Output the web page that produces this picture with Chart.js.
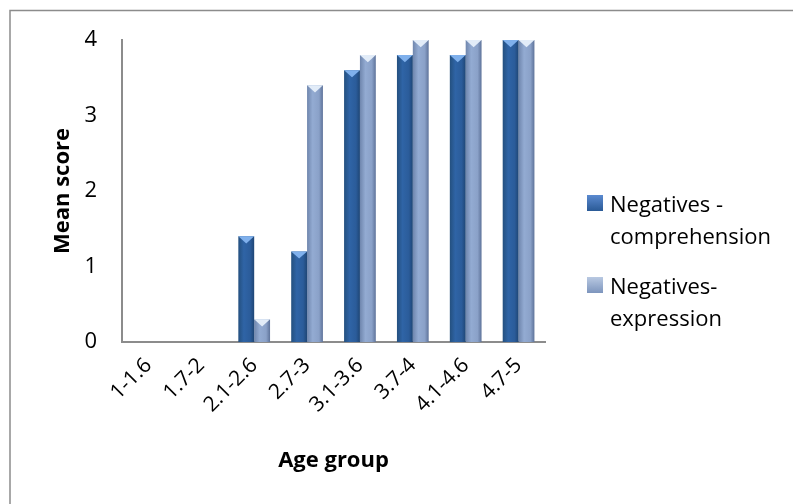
<!DOCTYPE html>
<html lang="en">
<head>
  <meta charset="UTF-8">
  <title>Negatives by age group</title>
  <script src="https://cdn.jsdelivr.net/npm/chart.js"></script>
  <style>
    html, body { margin: 0; padding: 0; background: #fff; }
    .wrap { position: relative; width: 793px; height: 504px; }
    .legend { position: absolute; left: 587px; top: 187px; font-family: "Open Sans", sans-serif; font-size: 22px; color: #000; line-height: 32px; }
    .legend .item { position: relative; padding-left: 23px; margin-bottom: 18px; white-space: nowrap; }
    .legend .box { position: absolute; left: 0; top: 8px; width: 16px; height: 16px; }
  </style>
</head>
<body>
  <div class="wrap">
    <canvas id="chart" width="793" height="504"></canvas>
    <div class="legend">
      <div class="item"><span class="box" style="background: linear-gradient(#5b8ad0, #2a5a96);"></span>Negatives -<br>comprehension</div>
      <div class="item"><span class="box" style="background: linear-gradient(#b9c9e2, #7d95bd);"></span>Negatives-<br>expression</div>
    </div>
  </div>

  <script>
    // data
    const ageGroups = ['1-1.6', '1.7-2', '2.1-2.6', '2.7-3', '3.1-3.6', '3.7-4', '4.1-4.6', '4.7-5'];
    const comprehension = [0, 0, 1.4, 1.2, 3.6, 3.8, 3.8, 4.0];
    const expression = [0, 0, 0.3, 3.4, 3.8, 4.0, 4.0, 4.0];
    const yTicks = [0, 1, 2, 3, 4];

    const CAT_PCT = 0.6;
    const FONT = '"Open Sans", sans-serif';

    // horizontal gradient per bar so it looks like the rounded Excel bars
    function barFill(stops) {
      return function (ctx) {
        const chart = ctx.chart;
        const xs = chart.scales.x;
        if (!xs || !chart.chartArea || ctx.dataIndex === undefined) return stops[1];
        const groupW = xs.width / ageGroups.length * CAT_PCT;
        const barW = groupW / 2;
        const c = xs.getPixelForValue(ctx.dataIndex) + (ctx.datasetIndex === 0 ? -barW / 2 : barW / 2);
        const g = chart.ctx.createLinearGradient(c - barW / 2, 0, c + barW / 2, 0);
        g.addColorStop(0, stops[0]);
        g.addColorStop(0.35, stops[1]);
        g.addColorStop(0.75, stops[2]);
        g.addColorStop(1, stops[3]);
        return g;
      };
    }

    // light bevel triangle at top of each bar + frame around the whole chart
    const decor = {
      id: 'decor',
      beforeDraw(chart) {
        const c = chart.ctx;
        c.save();
        c.strokeStyle = '#8c8c8c';
        c.lineWidth = 1.5;
        c.beginPath();
        c.moveTo(10, 504);
        c.lineTo(10, 10.5);
        c.lineTo(793, 10.5);
        c.stroke();
        c.restore();
      },
      afterDatasetsDraw(chart) {
        const c = chart.ctx;
        const tops = [['#7fb0ec', '#3d74bf'], ['#e2ecf8', '#a9bddc']];
        chart.data.datasets.forEach((ds, di) => {
          chart.getDatasetMeta(di).data.forEach((bar, i) => {
            if (!ds.data[i]) return;
            const w = bar.width;
            c.save();
            c.fillStyle = tops[di][0];
            c.beginPath();
            c.moveTo(bar.x - w / 2, bar.y);
            c.lineTo(bar.x + w / 2, bar.y);
            c.lineTo(bar.x, bar.y + w * 0.45);
            c.closePath();
            c.fill();
            c.restore();
          });
        });
      }
    };

    new Chart(document.getElementById('chart'), {
      type: 'bar',
      data: {
        labels: ageGroups,
        datasets: [
          {
            label: 'Negatives - comprehension',
            data: comprehension,
            backgroundColor: barFill(['#24507f', '#2f64a6', '#2b5c9a', '#1f4675'])
          },
          {
            label: 'Negatives-expression',
            data: expression,
            backgroundColor: barFill(['#6f86ad', '#93abd2', '#8aa1c8', '#5e739a'])
          }
        ]
      },
      options: {
        responsive: false,
        animation: false,
        layout: { padding: { left: 50, right: 248, top: 40, bottom: 30 } },
        datasets: { bar: { categoryPercentage: CAT_PCT, barPercentage: 1.0 } },
        plugins: { legend: { display: false }, tooltip: { enabled: false } },
        scales: {
          x: {
            grid: { display: false, drawTicks: false },
            border: { color: '#8c8c8c', width: 2 },
            ticks: { color: '#000', font: { family: FONT, size: 21 }, minRotation: 45, maxRotation: 45, padding: 11 },
            title: { display: true, text: 'Age group', color: '#000', font: { family: FONT, size: 22, weight: 'bold' }, padding: { top: 10, bottom: 0 } },
            afterFit(scale) { scale.height = 504 - 342 - 30; }
          },
          y: {
            min: 0,
            max: 4,
            afterBuildTicks(scale) { scale.ticks = yTicks.map(v => ({ value: v })); },
            grid: { display: false, drawOnChartArea: false, drawTicks: true, tickLength: 8, color: '#8c8c8c', tickWidth: 1.5 },
            border: { color: '#8c8c8c', width: 2 },
            ticks: { color: '#000', font: { family: FONT, size: 22 }, padding: 17 },
            title: { display: true, text: 'Mean score', color: '#000', font: { family: FONT, size: 22, weight: 'bold' }, padding: { top: 0, bottom: 0 } },
            afterFit(scale) { scale.width = 122 - 50; }
          }
        }
      },
      plugins: [decor]
    });
  </script>
</body>
</html>
